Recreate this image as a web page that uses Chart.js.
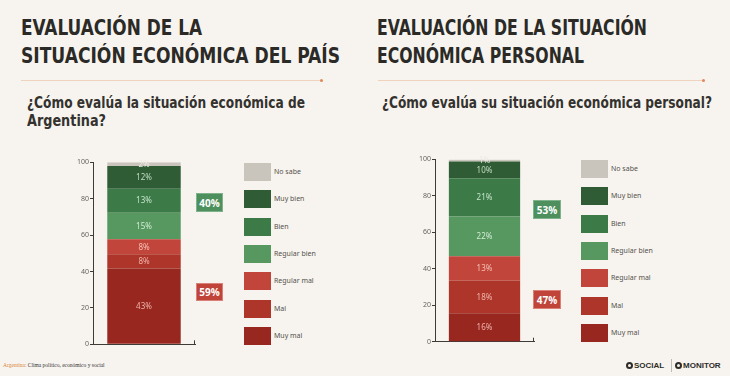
<!DOCTYPE html>
<html>
<head>
<meta charset="utf-8" />
<script src="https://cdn.jsdelivr.net/npm/chart.js@4.4.0/dist/chart.umd.min.js"></script>
<style>
  body { margin: 0; background: #f7f4ef; width: 730px; height: 376px; overflow: hidden; position: relative; font-family: 'Noto Sans', sans-serif; }
  .abs { position: absolute; }
  .fit { position: absolute; white-space: nowrap; transform-origin: 0 0; }
  .title { font-family: 'DejaVu Sans Condensed', sans-serif; font-weight: bold; font-size: 21px; line-height: 28px; color: #2b2a27; }
  .sub { font-family: 'DejaVu Sans Condensed', sans-serif; font-weight: bold; font-size: 15px; line-height: 18.4px; color: #34322e; }
  .rule { height: 1px; background: #efd3bd; }
  .dot { width: 3px; height: 3px; border-radius: 50%; background: #e0885a; }
  .leg-box { width: 27px; height: 18px; }
  .leg-txt { font-size: 7px; color: #55524d; line-height: 18px; white-space: nowrap; }
  .sum { font-family: 'Open Sans', sans-serif; font-weight: bold; font-size: 10px; color: #fff; display: flex; align-items: center; justify-content: center; box-sizing: border-box; }
  .foot { font-family: 'Liberation Serif', serif; font-size: 5.5px; color: #333; white-space: nowrap; }
  .logo { font-family: 'Liberation Sans', sans-serif; font-weight: bold; font-size: 8px; color: #2e2c29; white-space: nowrap; }
  .ring { display: inline-block; width: 7px; height: 7px; border: 2px solid #2e2c29; border-radius: 50%; box-sizing: border-box; vertical-align: -1px; margin-right: 1px; }
</style>
</head>
<body>

<div class="fit title" data-w="181" style="left:21px; top:14px;">EVALUACIÓN DE LA</div>
<div class="fit title" data-w="319" style="left:21px; top:42px;">SITUACIÓN ECONÓMICA DEL PAÍS</div>
<div class="fit title" data-w="270" style="left:377px; top:14px;">EVALUACIÓN DE LA SITUACIÓN</div>
<div class="fit title" data-w="207" style="left:377px; top:42px;">ECONÓMICA PERSONAL</div>

<div class="abs rule" style="left:21px; top:80px; width:300px;"></div>
<div class="abs dot" style="left:320px; top:79px;"></div>
<div class="abs rule" style="left:378px; top:80px; width:325px;"></div>
<div class="abs dot" style="left:702px; top:79px;"></div>

<div class="fit sub" data-w="278" style="left:27px; top:94px;">¿Cómo evalúa la situación económica de</div>
<div class="fit sub" data-w="79" style="left:27px; top:112px;">Argentina?</div>
<div class="fit sub" data-w="330" style="left:382px; top:94px;">¿Cómo evalúa su situación económica personal?</div>

<canvas id="paisChart" class="abs" width="145" height="205" style="left:60px; top:150px;"></canvas>
<canvas id="personalChart" class="abs" width="145" height="205" style="left:400px; top:150px;"></canvas>

<div id="legPais"></div>
<div id="legPersonal"></div>
<div id="sums"></div>

<div class="abs foot" style="left:3px; top:362px;"><span style="color:#d9863a;">Argentina:</span> Clima político, económico y social</div>
<div class="abs logo" style="left:626px; top:361px;"><span class="ring"></span>SOCIAL</div>
<div class="abs" style="left:671px; top:359px; width:1px; height:13px; background:#bbb;"></div>
<div class="abs logo" style="left:675px; top:361px;"><span class="ring"></span>MONITOR</div>

<script>
// ---- data (bottom to top) ----
const categories = ['Muy mal', 'Mal', 'Regular mal', 'Regular bien', 'Bien', 'Muy bien', 'No sabe'];
const colors = ['#982720', '#ad3529', '#c1453a', '#56985f', '#3c7b48', '#2f5c35', '#c9c5bd'];
const labelColors = ['#eeb2a9', '#f0b5ac', '#f5c0b6', '#d2ecd4', '#c5e3c8', '#c0dcc2', '#ece9e3'];

// segment heights as drawn, and the printed percentages
const paisHeights = [41.6, 7.9, 8.2, 14.6, 13.2, 12.5, 2.0];
const paisPct = [43, 8, 8, 15, 13, 12, 2];
const personalHeights = [15.6, 18.0, 13.2, 21.8, 21.0, 9.2, 1.0];
const personalPct = [16, 18, 13, 22, 21, 10, 1];

const yTicks = [0, 20, 40, 60, 80, 100];

// squeeze headings to the condensed widths of the original
document.querySelectorAll('.fit').forEach(el => {
  const w = el.getBoundingClientRect().width;
  el.style.transform = 'scaleX(' + (parseFloat(el.dataset.w) / w) + ')';
});

// ---- segment labels ----
const segLabels = {
  id: 'segLabels',
  afterDatasetsDraw(chart, args, opts) {
    const ctx = chart.ctx;
    ctx.save();
    ctx.font = '400 8px "Noto Sans"';
    ctx.textAlign = 'center';
    ctx.textBaseline = 'middle';
    chart.data.datasets.forEach((ds, i) => {
      const bar = chart.getDatasetMeta(i).data[0];
      ctx.fillStyle = labelColors[i];
      ctx.fillText(opts.pct[i] + '%', bar.x, (bar.y + bar.base) / 2 + 0.5);
    });
    // small end tick on x axis
    const a = chart.chartArea;
    ctx.strokeStyle = '#3d3b38';
    ctx.lineWidth = 1;
    ctx.beginPath();
    ctx.moveTo(a.right - 0.5, a.bottom);
    ctx.lineTo(a.right - 0.5, a.bottom - 4);
    ctx.stroke();
    ctx.restore();
  }
};

function makeChart(id, heights, pct, yWidth, pad) {
  return new Chart(document.getElementById(id), {
    type: 'bar',
    data: {
      labels: [''],
      datasets: categories.map((c, i) => ({
        label: c,
        data: [heights[i]],
        backgroundColor: colors[i],
        borderWidth: 0,
        barPercentage: 0.72,
        categoryPercentage: 1
      }))
    },
    options: {
      responsive: false,
      devicePixelRatio: 1,
      animation: false,
      layout: { padding: pad },
      plugins: { legend: { display: false }, tooltip: { enabled: false }, segLabels: { pct: pct } },
      scales: {
        x: {
          stacked: true,
          grid: { display: false },
          ticks: { display: false },
          border: { display: true, color: '#3d3b38', width: 1 },
          afterFit(axis) { axis.height = 0; }
        },
        y: {
          stacked: true,
          min: 0, max: 100,
          afterBuildTicks(axis) { axis.ticks = yTicks.map(v => ({ value: v })); },
          grid: { display: true, drawOnChartArea: false, drawTicks: true, tickLength: 3, color: '#3d3b38' },
          border: { display: true, color: '#3d3b38', width: 1 },
          ticks: { font: { size: 7, family: 'Noto Sans' }, color: '#67635d', padding: 1 },
          afterFit(axis) { axis.width = yWidth; }
        }
      }
    },
    plugins: [segLabels]
  });
}

makeChart('paisChart', paisHeights, paisPct, 33, { top: 12.3, bottom: 10.7, right: 10, left: 0 });
makeChart('personalChart', personalHeights, personalPct, 35, { top: 9.3, bottom: 13.3, right: 11, left: 0 });

// ---- legends (top to bottom) ----
function buildLegend(holderId, left, top) {
  const holder = document.getElementById(holderId);
  for (let k = 0; k < categories.length; k++) {
    const i = categories.length - 1 - k;
    const y = top + k * 27.35;
    const box = document.createElement('div');
    box.className = 'abs leg-box';
    box.style.left = left + 'px';
    box.style.top = y + 'px';
    box.style.background = colors[i];
    holder.appendChild(box);
    const txt = document.createElement('div');
    txt.className = 'abs leg-txt';
    txt.style.left = (left + 30) + 'px';
    txt.style.top = y + 'px';
    txt.textContent = categories[i];
    holder.appendChild(txt);
  }
}
buildLegend('legPais', 244, 163);
buildLegend('legPersonal', 581, 160);

// ---- summary boxes ----
function addSum(left, top, w, h, value, bg, border) {
  const d = document.createElement('div');
  d.className = 'abs sum';
  Object.assign(d.style, { left: left + 'px', top: top + 'px', width: w + 'px', height: h + 'px', background: bg, border: '1px solid ' + border });
  d.textContent = value + '%';
  document.getElementById('sums').appendChild(d);
}
const sum = (arr, a, b) => arr.slice(a, b).reduce((s, v) => s + v, 0);
addSum(196, 193, 27, 19, sum(paisPct, 3, 6), '#4d905e', '#7fb28b');
addSum(196, 283, 27, 18, sum(paisPct, 0, 3), '#c0443a', '#d98077');
addSum(533, 200, 28, 19, sum(personalPct, 3, 6), '#4d905e', '#7fb28b');
addSum(533, 290, 28, 19, sum(personalPct, 0, 3), '#c0443a', '#d98077');
</script>
</body>
</html>
